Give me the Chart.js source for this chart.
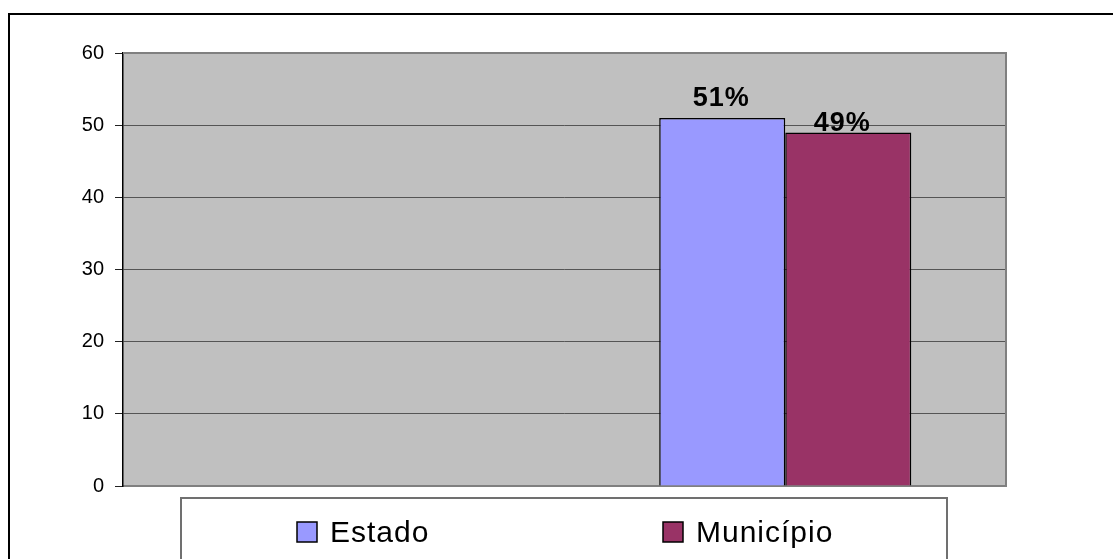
<!DOCTYPE html>
<html>
<head>
<meta charset="utf-8">
<script src="https://cdn.jsdelivr.net/npm/chart.js@4/dist/chart.umd.min.js"></script>
<style>
  html, body { margin: 0; padding: 0; background: #fff; }
  #wrap { width: 1113px; height: 559px; }
</style>
</head>
<body>
<div id="wrap"><canvas id="chart" width="1113" height="559"></canvas></div>
<script>
const categories = ['', ''];
const estadoValues = [null, 51];
const municipioValues = [null, 49];
const estadoLabels = ['', '51%'];
const municipioLabels = ['', '49%'];
const yMin = 0, yMax = 60, yStep = 10;

const FONT = '"Liberation Sans", Arial, sans-serif';

// plot background, outer frame, value labels and boxed legend
const excelLook = {
    id: 'excelLook',
    beforeDraw(chart) {
        const { ctx, chartArea: a } = chart;
        ctx.save();
        ctx.fillStyle = '#c0c0c0';
        ctx.fillRect(a.left, a.top, a.right - a.left, a.bottom - a.top);
        ctx.restore();
    },
    afterDatasetsDraw(chart) {
        const { ctx, chartArea: a } = chart;
        ctx.save();
        // plot border top/right
        ctx.strokeStyle = '#808080';
        ctx.lineWidth = 2;
        ctx.beginPath();
        ctx.moveTo(a.left, a.top);
        ctx.lineTo(a.right, a.top);
        ctx.lineTo(a.right, a.bottom);
        ctx.stroke();

        // value labels
        const offsets = [{ dx: -1, dy: 12 }, { dx: -6, dy: 1 }];
        ctx.fillStyle = '#000';
        ctx.font = 'bold 27px ' + FONT;
        ctx.letterSpacing = '1px';
        ctx.textAlign = 'center';
        ctx.textBaseline = 'alphabetic';
        chart.data.datasets.forEach((ds, di) => {
            const meta = chart.getDatasetMeta(di);
            meta.data.forEach((bar, i) => {
                const txt = ds.valueLabels[i];
                if (!txt) return;
                ctx.fillText(txt, bar.x + offsets[di].dx, bar.y - offsets[di].dy);
            });
        });

        // outer frame
        ctx.strokeStyle = '#000';
        ctx.lineWidth = 2;
        ctx.strokeRect(9, 14, 1200, 700);

        // legend box
        ctx.strokeStyle = '#707070';
        ctx.lineWidth = 2;
        ctx.strokeRect(181, 498, 766, 200);
        ctx.font = '30px ' + FONT;
        ctx.letterSpacing = '1px';
        ctx.textAlign = 'left';
        chart.data.datasets.forEach((ds, di) => {
            const x = 297 + di * 366;
            ctx.fillStyle = ds.backgroundColor;
            ctx.fillRect(x, 522, 20, 20);
            ctx.strokeStyle = '#000';
            ctx.lineWidth = 1.5;
            ctx.strokeRect(x, 522, 20, 20);
            ctx.fillStyle = '#000';
            ctx.fillText(ds.label, x + 33, 542);
        });
        ctx.restore();
    }
};

new Chart(document.getElementById('chart'), {
    type: 'bar',
    data: {
        labels: categories,
        datasets: [
            {
                label: 'Estado',
                data: estadoValues,
                valueLabels: estadoLabels,
                backgroundColor: '#9999ff',
                borderColor: '#000',
                borderWidth: 1.5
            },
            {
                label: 'Município',
                data: municipioValues,
                valueLabels: municipioLabels,
                backgroundColor: '#993366',
                borderColor: '#000',
                borderWidth: 1.5
            }
        ]
    },
    options: {
        responsive: false,
        animation: false,
        layout: { padding: { top: 53, right: 107, bottom: 73, left: 0 } },
        plugins: {
            legend: { display: false },
            tooltip: { enabled: false }
        },
        datasets: {
            bar: { categoryPercentage: 0.571, barPercentage: 1.0 }
        },
        scales: {
            x: {
                ticks: { display: false },
                grid: { display: false, drawTicks: false },
                border: { color: '#808080', width: 2 }
            },
            y: {
                min: yMin,
                max: yMax,
                ticks: {
                    stepSize: yStep,
                    color: '#000',
                    padding: 11,
                    font: { family: FONT, size: 20 }
                },
                grid: { color: '#555', tickColor: '#222', tickLength: 8, lineWidth: 1 },
                border: { color: '#000', width: 1.5 },
                afterFit(scale) { scale.width = 123; }
            }
        }
    },
    plugins: [excelLook]
});
</script>
</body>
</html>
